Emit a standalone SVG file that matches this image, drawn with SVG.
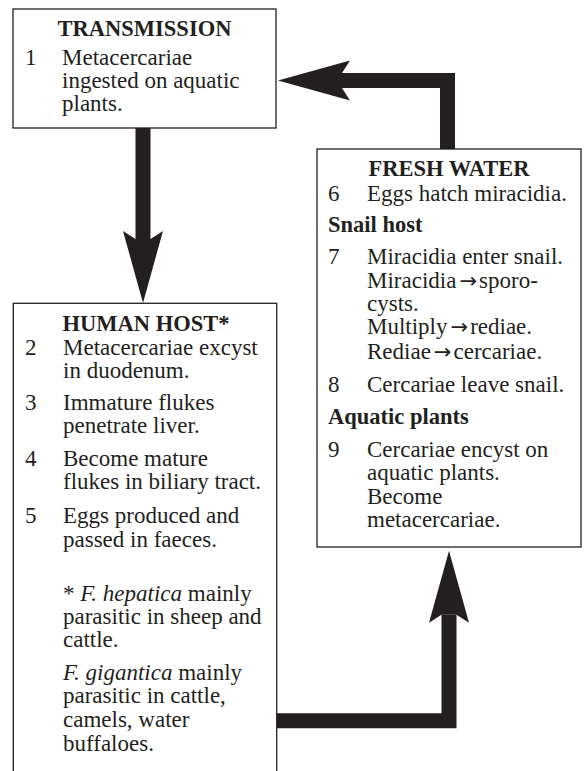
<svg xmlns="http://www.w3.org/2000/svg" width="586" height="771" viewBox="0 0 586 771">
<style>
.box{fill:#fff;stroke:#231f20;stroke-width:1.3}
text{font-family:"Liberation Serif","Times New Roman",serif;font-size:23px;fill:#231f20}
.h{font-weight:bold;text-anchor:middle;font-size:22.5px}
.b{font-weight:bold;font-size:22.5px}
.i{font-style:italic}
.arr{font-family:"DejaVu Sans",sans-serif;font-size:21px}
.shaft{fill:none;stroke:#231f20;stroke-width:15;stroke-linejoin:miter;stroke-linecap:butt}
</style>
<defs>
<marker id="head" markerUnits="userSpaceOnUse" markerWidth="80" markerHeight="44" refX="8" refY="20" orient="auto" viewBox="0 0 80 44" overflow="visible">
<path d="M0,0 L72,20 L0,40 L8,27.5 L8,12.5 Z" fill="#231f20"/>
</marker>
</defs>
<g id="connectors">
<polyline class="shaft" points="143,128 143,239" marker-end="url(#head)"/>
<polyline class="shaft" points="447.5,149 447.5,80.5 342,80.5" marker-end="url(#head)"/>
<polyline class="shaft" points="277,720.75 449,720.75 449,614.7" marker-end="url(#head)"/>
</g>
<g id="transmission">
<rect class="box" x="13" y="9" width="263" height="119"/>
<text class="h" x="144.5" y="36">TRANSMISSION</text>
<text x="25" y="65">1</text>
<text x="62" y="65">Metacercariae</text>
<text x="62" y="88">ingested on aquatic</text>
<text x="62" y="111">plants.</text>
</g>
<g id="fresh-water">
<rect class="box" x="317" y="149" width="264" height="398"/>
<text class="h" x="449" y="176">FRESH WATER</text>
<text x="328" y="201">6</text>
<text x="367" y="201">Eggs hatch miracidia.</text>
<text class="b" x="328" y="232">Snail host</text>
<text x="328" y="264">7</text>
<text x="367" y="264">Miracidia enter snail.</text>
<text x="367" y="288">Miracidia<tspan class="arr" dx="3">→</tspan><tspan dx="2">sporo-</tspan></text>
<text x="367" y="311">cysts.</text>
<text x="367" y="334">Multiply<tspan class="arr" dx="3">→</tspan><tspan dx="2">rediae.</tspan></text>
<text x="367" y="359">Rediae<tspan class="arr" dx="3">→</tspan><tspan dx="2">cercariae.</tspan></text>
<text x="328" y="392">8</text>
<text x="367" y="392">Cercariae leave snail.</text>
<text class="b" x="328" y="424">Aquatic plants</text>
<text x="328" y="457">9</text>
<text x="367" y="457">Cercariae encyst on</text>
<text x="367" y="480">aquatic plants.</text>
<text x="367" y="504">Become</text>
<text x="367" y="527">metacercariae.</text>
</g>
<g id="human-host">
<rect class="box" x="13.3" y="303.3" width="263.4" height="500"/>
<text class="h" x="146" y="331">HUMAN HOST*</text>
<text x="25" y="355">2</text>
<text x="63" y="355">Metacercariae excyst</text>
<text x="63" y="378">in duodenum.</text>
<text x="25" y="410">3</text>
<text x="63" y="410">Immature flukes</text>
<text x="63" y="433">penetrate liver.</text>
<text x="25" y="466">4</text>
<text x="63" y="466">Become mature</text>
<text x="63" y="489">flukes in biliary tract.</text>
<text x="25" y="523">5</text>
<text x="63" y="523">Eggs produced and</text>
<text x="63" y="547">passed in faeces.</text>
<text x="63" y="601">* <tspan class="i">F. hepatica</tspan> mainly</text>
<text x="63" y="624">parasitic in sheep and</text>
<text x="63" y="647">cattle.</text>
<text x="63" y="680"><tspan class="i">F. gigantica</tspan> mainly</text>
<text x="63" y="703">parasitic in cattle,</text>
<text x="63" y="727">camels, water</text>
<text x="63" y="751">buffaloes.</text>
</g>
</svg>
